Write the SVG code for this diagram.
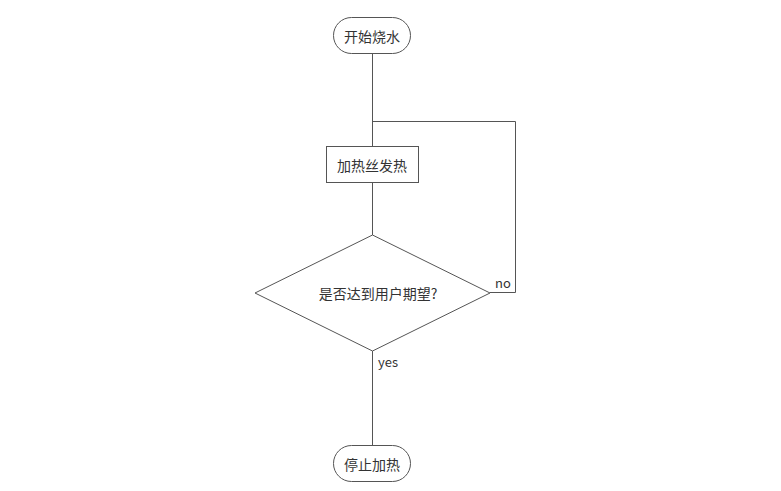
<svg xmlns="http://www.w3.org/2000/svg" width="781" height="491" viewBox="0 0 781 491">
<style>
.s{fill:#fff;stroke:#555;stroke-width:1}
.c{fill:none;stroke:#555;stroke-width:1}
text{font-family:"Noto Sans CJK SC","Liberation Sans",sans-serif;font-size:14px;fill:#333}
.m{text-anchor:middle;dominant-baseline:central}
.l{font-size:13px}
</style>
<rect width="781" height="491" fill="#fff"/>
<g id="connectors">
<path class="c" d="M372.5 53V146"/>
<path class="c" d="M490 292.5H515.5V121.5H372.5"/>
<path class="c" d="M372.5 182V235"/>
<path class="c" d="M372.5 351V445"/>
<text class="l" x="495" y="288">no</text>
<text class="l" x="378" y="367">yes</text>
</g>
<g id="start">
<rect class="s" x="333.5" y="17.5" width="77" height="36" rx="18"/>
<text class="m" x="372" y="35.5">开始烧水</text>
</g>
<g id="heat">
<rect class="s" x="326.5" y="146.5" width="92" height="36"/>
<text class="m" x="372" y="164.5">加热丝发热</text>
</g>
<g id="decision">
<polygon class="s" points="372.5,235 490,293 372.5,351 255,293"/>
<text class="m" x="378" y="293">是否达到用户期望?</text>
</g>
<g id="end">
<rect class="s" x="333.5" y="445.5" width="77" height="36" rx="18"/>
<text class="m" x="372" y="463.5">停止加热</text>
</g>
</svg>
